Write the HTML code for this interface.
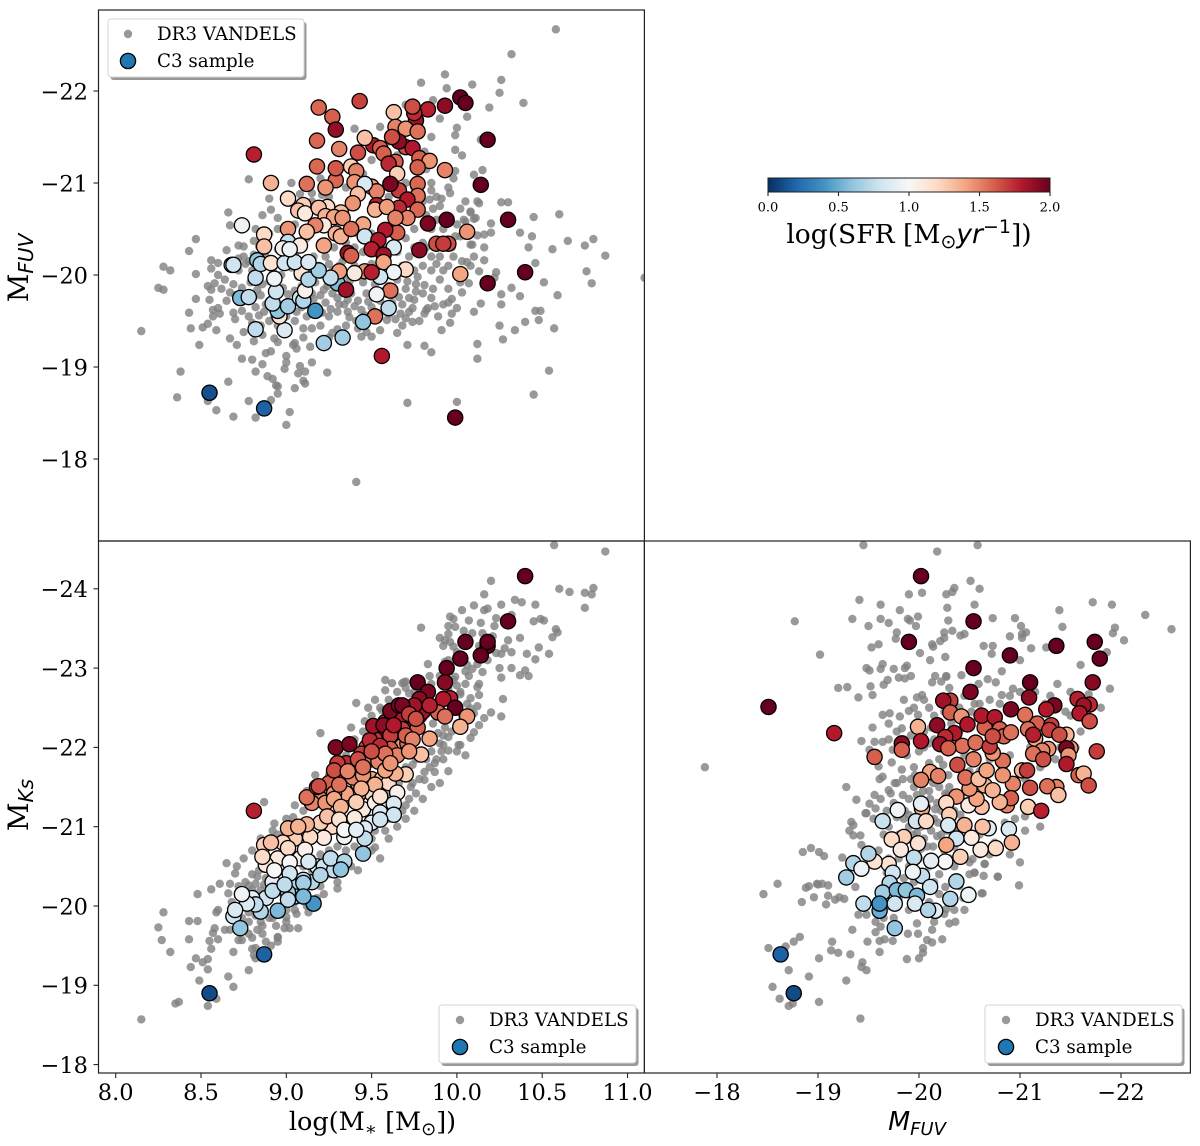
<!DOCTYPE html>
<html lang="en">
<head>
<meta charset="utf-8">
<title>VANDELS C3 sample scatter matrix</title>
<style>
html,body{margin:0;padding:0;background:#fff}
svg{display:block}
text{font-family:"DejaVu Serif","Liberation Serif",serif;fill:#000}
.it{font-family:"DejaVu Sans","Liberation Sans",sans-serif;font-style:italic}
.sans{font-family:"DejaVu Sans","Liberation Sans",sans-serif}
</style>
</head>
<body>
<svg id="chart" xmlns="http://www.w3.org/2000/svg" width="1200" height="1146" viewBox="0 0 1200 1146">
<defs>
<clipPath id="clip-top"><rect x="98.5" y="10" width="545.9" height="531"/></clipPath>
<clipPath id="clip-left"><rect x="98.5" y="541" width="545.9" height="532"/></clipPath>
<clipPath id="clip-right"><rect x="644.4" y="541" width="546" height="532"/></clipPath>
<linearGradient id="rdbu" x1="0" x2="1" y1="0" y2="0">
<stop offset="0" stop-color="#053061"/><stop offset=".1" stop-color="#2166ac"/><stop offset=".2" stop-color="#4393c3"/><stop offset=".3" stop-color="#92c5de"/><stop offset=".4" stop-color="#d1e5f0"/><stop offset=".5" stop-color="#f7f7f7"/><stop offset=".6" stop-color="#fddbc7"/><stop offset=".7" stop-color="#f4a582"/><stop offset=".8" stop-color="#d6604d"/><stop offset=".9" stop-color="#b2182b"/><stop offset="1" stop-color="#67001f"/>
</linearGradient>
</defs>
<g id="panel-top"></g>
<g id="panel-left"></g>
<g id="panel-right"></g>
<g id="frames" fill="none" stroke="#222" stroke-width="1.2">
<rect x="98.5" y="10" width="545.9" height="531"/>
<rect x="98.5" y="541" width="545.9" height="532"/>
<rect x="644.4" y="541" width="546" height="532"/>
</g>
<g id="ticks"></g>

<text transform="translate(28,268) rotate(-90)" text-anchor="middle" font-size="28">M<tspan class="it" font-size="20" dy="5">FUV</tspan></text>
<text transform="translate(28,805) rotate(-90)" text-anchor="middle" font-size="28">M<tspan class="it" font-size="20" dy="5">Ks</tspan></text>
<text x="372.5" y="1130" text-anchor="middle" font-size="25.5">log(M<tspan font-size="18" dy="5">∗</tspan><tspan dy="-5"> [M</tspan><tspan class="sans" font-size="18" dy="5">⊙</tspan><tspan dy="-5">])</tspan></text>
<text x="917" y="1130" text-anchor="middle" font-size="25.5" class="it">M<tspan font-size="18" dy="5">FUV</tspan></text>

<g>
<rect x="110.5" y="22" width="196" height="58" rx="3" fill="#999"/>
<rect x="108" y="19" width="196" height="58" rx="3" fill="#fff" stroke="#d4d4d4"/>
<circle cx="128" cy="34" r="4.2" fill="#808080" fill-opacity=".8"/>
<text x="157" y="40" font-size="18.3">DR3 VANDELS</text>
<circle cx="128" cy="61" r="7.6" fill="#1f77b4" stroke="#000" stroke-width="1.3"/>
<text x="157" y="67" font-size="18.3">C3 sample</text>
</g>
<g>
<rect x="441.5" y="1008" width="197" height="58" rx="3" fill="#999"/>
<rect x="439" y="1005" width="197" height="58" rx="3" fill="#fff" stroke="#d4d4d4"/>
<circle cx="460" cy="1020" r="4.2" fill="#808080" fill-opacity=".8"/>
<text x="489" y="1026" font-size="18.3">DR3 VANDELS</text>
<circle cx="460" cy="1047" r="7.6" fill="#1f77b4" stroke="#000" stroke-width="1.3"/>
<text x="489" y="1053" font-size="18.3">C3 sample</text>
</g>
<g>
<rect x="987.5" y="1008" width="197" height="58" rx="3" fill="#999"/>
<rect x="985" y="1005" width="197" height="58" rx="3" fill="#fff" stroke="#d4d4d4"/>
<circle cx="1006" cy="1020" r="4.2" fill="#808080" fill-opacity=".8"/>
<text x="1035" y="1026" font-size="18.3">DR3 VANDELS</text>
<circle cx="1006" cy="1047" r="7.6" fill="#1f77b4" stroke="#000" stroke-width="1.3"/>
<text x="1035" y="1053" font-size="18.3">C3 sample</text>
</g>
<g id="colorbar">
<rect x="768" y="178" width="282" height="14" fill="url(#rdbu)" stroke="#222" stroke-width="1"/>
<text x="909" y="243" text-anchor="middle" font-size="26.5">log(SFR [M<tspan class="sans" font-size="19" dy="5">⊙</tspan><tspan class="it" dy="-5">yr</tspan><tspan class="sans" font-size="19" dy="-10">−1</tspan><tspan dy="10">])</tspan></text>
</g>
<script>
/* Colour scale */
const sfrStops = ['#053061','#2166ac','#4393c3','#92c5de','#d1e5f0','#f7f7f7','#fddbc7','#f4a582','#d6604d','#b2182b','#67001f'];
/* Tick values and labels */
const massTicks = [8,8.5,9,9.5,10,10.5,11];
const massTickLabels = ['8.0','8.5','9.0','9.5','10.0','10.5','11.0'];
const fuvTicks = [-22,-21,-20,-19,-18];
const fuvTickLabels = ['−22','−21','−20','−19','−18'];
const ksTicks = [-24,-23,-22,-21,-20,-19,-18];
const ksTickLabels = ['−24','−23','−22','−21','−20','−19','−18'];
const fuvBottomTicks = [-18,-19,-20,-21,-22];
const fuvBottomLabels = ['−18','−19','−20','−21','−22'];
const sfrTicks = [0,0.5,1,1.5,2];
const sfrTickLabels = ['0.0','0.5','1.0','1.5','2.0'];

/* DR3 VANDELS: [log mass, M_FUV] */
const grayTop = [[8.47,-20.39],[8.43,-20.26],[8.65,-20.27],[8.56,-20.16],[8.6,-20.13],[8.28,-20.09],[8.32,-20.05],[8.47,-20.01],[8.56,-20.07],[8.25,-19.86],[8.28,-19.84],[8.54,-19.88],[8.58,-19.91],[8.56,-19.84],[8.64,-19.95],[8.69,-19.9],[8.67,-19.81],[8.47,-19.74],[8.55,-19.73],[8.43,-19.59],[8.6,-19.64],[8.57,-19.62],[8.61,-19.58],[8.57,-19.55],[8.69,-19.59],[8.74,-19.61],[8.7,-19.52],[8.15,-19.39],[8.44,-19.42],[8.54,-19.47],[8.51,-19.43],[8.59,-19.4],[8.67,-19.31],[8.49,-19.24],[8.71,-19.24],[8.81,-19.28],[8.86,-19.35],[8.93,-19.31],[8.95,-19.27],[9.04,-19.24],[9.06,-19.2],[9.05,-19.26],[9.14,-19.22],[8.74,-19.09],[8.8,-19.08],[8.88,-19.15],[8.91,-19.17],[9,-19.12],[9,-19.05],[8.99,-18.98],[8.86,-19.03],[9.15,-19.05],[9.08,-19.01],[9.11,-18.95],[9.07,-18.93],[9.24,-18.94],[8.38,-18.95],[8.82,-18.95],[8.89,-18.9],[8.92,-18.87],[8.66,-18.84],[8.94,-18.8],[8.95,-18.79],[8.95,-18.71],[9.1,-18.85],[9.11,-18.82],[9.05,-18.77],[8.36,-18.67],[8.54,-18.63],[8.78,-18.63],[8.91,-18.64],[8.59,-18.53],[8.69,-18.46],[8.82,-18.45],[9.02,-18.51],[9,-18.37],[9.71,-18.61],[9.41,-17.75],[9.71,-19.24],[9.81,-19.23],[9.65,-19.37],[9.44,-19.33],[9.5,-19.33],[9.47,-19.38],[9.37,-19.54],[9.3,-19.41],[9.27,-19.37],[9.15,-19.42],[9.7,-19.53],[9.74,-19.49],[9.78,-19.5],[9.64,-19.52],[9.59,-19.51],[9.82,-19.62],[9.74,-19.64],[9.75,-19.73],[9.76,-19.82],[9.71,-19.93],[9.81,-19.89],[9.77,-19.98],
[10.08,-20.68],[10.1,-20.61],[10.13,-20.78],[10.26,-20.79],[10.3,-20.79],[10.45,-20.63],[10.6,-20.66],[10.2,-20.56],[10.05,-20.58],[10.37,-20.46],[10.44,-20.42],[10.16,-20.44],[10.2,-20.46],[10.12,-20.43],[10.08,-20.33],[10.02,-20.42],[10.16,-20.3],[10.42,-20.3],[10.56,-20.28],[10.65,-20.37],[10.75,-20.32],[10.8,-20.39],[10.87,-20.21],[10.16,-20.16],[10.46,-20.13],[10.06,-20.14],[10.08,-20.1],[10.13,-20.04],[10.23,-20.03],[10.22,-19.97],[10.76,-20.04],[10.79,-19.91],[10.51,-19.92],[10.32,-19.86],[10.26,-19.79],[10.37,-19.77],[10.59,-19.78],[10.03,-19.81],[10.07,-19.91],[10.14,-19.69],[10.26,-19.68],[10,-19.64],[9.97,-19.74],[9.92,-19.68],[9.87,-19.66],[9.83,-19.64],[10.1,-19.6],[9.97,-19.58],[9.89,-19.55],[9.81,-19.58],[10.46,-19.61],[10.49,-19.61],[9.96,-19.48],[9.91,-19.4],[10.48,-19.51],[10.4,-19.49],[10.34,-19.4],[10.25,-19.45],[10.57,-19.42],[10.27,-19.3],[10.12,-19.25],[10.12,-19.09],[9.85,-19.16],[10.54,-18.96],[10.45,-18.7],[10,-18.62],[11.1,-19.97],
[10.58,-22.67],[10.32,-22.4],[10.26,-22.12],[10.39,-21.87],[10.25,-21.98],[9.79,-22.09],[9.93,-22.18],[9.94,-22.03],[10.09,-22.07],[10.06,-21.72],[10.19,-21.82],[10,-21.6],[9.99,-21.52],[9.4,-21.59],[9.55,-21.61],[9.99,-21.36],[10.03,-21.3],[10.14,-21.47],[10.15,-21.14],[9.99,-21.13],[10.1,-21.09],[8.78,-21.04],[9.03,-21],[8.9,-20.83],[8.66,-20.68],[8.67,-20.54],[8.81,-20.37],[8.75,-20.31],[10.12,-20.8],[9.96,-20.89],[9.91,-20.83],[9.84,-20.82],[10.08,-20.69],[10.11,-20.62],[10.04,-20.6],[10.05,-20.46],[9.99,-20.42],[10.09,-20.33],[8.86,-20.65],[8.91,-20.71],[9.15,-20.89],[9.21,-20.87],[9.81,-21.34],
[8.88,-20.2],[8.92,-20.05],[8.97,-20],[9.03,-20.08],[9.07,-19.98],[9.12,-20.05],[9.17,-19.92],[9.2,-20],[9.24,-19.88],[9.28,-19.95],[9.15,-19.8],[9.2,-19.78],[9.1,-19.72],[9.03,-19.68],[9.06,-19.6],[9.18,-19.66],[9.23,-19.7],[9.3,-19.75],[9.34,-19.68],[9.38,-19.8],[9.42,-19.72],[9.47,-19.8],[9.5,-19.65],[9.55,-19.72],[9.58,-19.62],[9.62,-19.7],[9.66,-19.76],[9.7,-19.85],[9.76,-19.9],[9.45,-19.92],[9.52,-19.9],[9.6,-19.88],[9.35,-20],[9.4,-20.1],[9.33,-20.15],[9.25,-20.12],[9.16,-20.2],[9.1,-20.3],[9.05,-20.22],[8.95,-20.28],[9.4,-20.3],[9,-20.45],[9.05,-20.55],[8.95,-20.5],[9.6,-20.5],[9.7,-20.4],[9.8,-20.35],[9.85,-20.5],[9.88,-20.6],[9.82,-20.65],[9.75,-20.3],[9.9,-20.2],[9.95,-20.1],[9.85,-20.05],[9.9,-19.95],[10,-20],[9.95,-19.85],[9.98,-20.2],[10.03,-20.15],[9.8,-20.1],[9.85,-20.2],[9.93,-20.3],[9.15,-20.8],[9.25,-20.85],[9.05,-20.75],[9.6,-20.85],[9.7,-21],[9.85,-21],[9.82,-21.15],[9.88,-20.85],[9.65,-21.3],[9.45,-21.1],[9.5,-21.25],[9.3,-20.55],[9.42,-20.45],[9.5,-20.45],[8.75,-20.2],[8.78,-20.15],[8.8,-20.05],[8.72,-20.05],[8.85,-19.78],[8.9,-19.7],[8.87,-19.6],[8.82,-19.65],[8.78,-19.55],[8.9,-19.5],[8.85,-19.45],[8.95,-19.45],[9,-19.55],[9.05,-19.5],[9.12,-19.55],[9.25,-19.55],[9.3,-19.6],[9.35,-19.45],[9.2,-19.45],[9.1,-19.42]];
const grayTopCloud = [[8.72,-20.32],[8.76,-20.12],[8.81,-20.22],[8.84,-20.31],[8.79,-19.92],[8.83,-19.84],[8.74,-19.86],[8.7,-19.78],[8.76,-19.73],[8.81,-19.76],[8.86,-19.9],[8.9,-19.93],[8.94,-19.83],[8.98,-19.86],[9.01,-19.79],[9.05,-19.83],[9.09,-19.88],[9.13,-19.84],[9.16,-19.74],[9.22,-19.84],[9.27,-19.8],[9.3,-19.86],[9.33,-19.81],[9.36,-19.73],[9.4,-19.66],[9.44,-19.62],[9.48,-19.71],[9.52,-19.77],[9.56,-19.82],[9.63,-19.79],[9.68,-19.68],[9.72,-19.6],[9.67,-19.58],[9.6,-19.57],[9.54,-19.55],[9.46,-19.56],[9.41,-19.5],[9.36,-19.6],[9.31,-19.68],[9.26,-19.63],[9.21,-19.59],[9.15,-19.62],[9.09,-19.65],[9,-19.62],[8.96,-19.68],[8.92,-19.62],[8.88,-19.68],[8.84,-19.56],[8.8,-19.48],[8.93,-19.55],[9.02,-20.15],[9.06,-20.12],[9.1,-20.08],[9.15,-20],[9.19,-20.1],[9.23,-20.2],[9.27,-20.05],[9.31,-20.1],[9.37,-19.93],[9.42,-19.98],[9.47,-20.05],[9.5,-20.12],[9.55,-20.08],[9.6,-20],[9.65,-19.95],[9.68,-20.1],[9.72,-20.2],[9.75,-20.05],[9.78,-20.25],[9.82,-20.3],[9.86,-19.85],[9.92,-20.05],[9.97,-20.3],[9.88,-20.12],[9.8,-19.8],[9.72,-19.75],[9.12,-20.4],[9.2,-20.35],[9.28,-20.3],[9.35,-20.35],[9.45,-20.25],[9.58,-20.3],[9.65,-20.25],[9.55,-20.42],[9.68,-20.6],[9.75,-20.5],[9.92,-20.5],[9.96,-20.62],[9.86,-20.72],[9.8,-20.8],[9.9,-20.75],[9.95,-20.95],[9.85,-20.92],[9.75,-20.95],[10.02,-20.72],[10.05,-20.8],[9.98,-21.05],[10,-20.55],[10.1,-20.2],[10.02,-19.92],[9.95,-19.7],[9.85,-19.75],[9.68,-19.45],[9.55,-19.4],[9.42,-19.42],[9.25,-19.32],[9.1,-19.32],[8.98,-19.38],[8.75,-19.38],[8.65,-19.72],[8.62,-19.85],[8.6,-20],[8.72,-20.18],[8.82,-20.5],[8.9,-20.45],[8.95,-20.62],[9.08,-20.88],[9.35,-20.95],[9.2,-21.05],[9.4,-21.3],[9.6,-21.45],[9.85,-21.5],[9.9,-21.7],[9.7,-21.85],[9.86,-21.9]];

/* DR3 VANDELS: [log mass, M_Ks] */
const grayLeft = [[10.57,-24.55],[10.87,-24.47],[10.2,-24.1],[10.16,-23.93],[10.6,-24],[10.66,-23.96],[10.75,-23.95],[10.8,-24.01],[10.79,-23.93],[10.75,-23.76],[10.34,-23.86],[10.38,-23.83],[10.26,-23.8],[10.46,-23.8],[10.1,-23.79],[10.03,-23.73],[10.16,-23.73],[10.18,-23.75],[9.96,-23.65],[9.98,-23.62],[10.07,-23.6],[10.14,-23.57],[10.23,-23.63],[10.32,-23.67],[10.45,-23.59],[10.49,-23.62],[10.51,-23.6],[10.22,-23.53],[9.95,-23.53],[9.99,-23.52],[9.79,-23.51],[10.58,-23.49],[10.59,-23.45],[10.56,-23.39],[10.04,-23.47],[9.95,-23.43],[9.9,-23.38],[9.93,-23.35],[10.09,-23.44],[10.15,-23.44],[10.21,-23.4],[9.92,-23.28],[9.96,-23.33],[9.98,-23.27],[10.13,-23.28],[10.37,-23.38],[10.48,-23.26],[10.41,-23.18],[10.54,-23.18],[10.46,-23.11],[10.32,-23.2],[10.28,-23.25],[10.26,-23.18],[10.23,-23.19],[10.25,-23],[10.32,-23],[10.26,-22.88],[10.4,-22.97],[10.37,-22.91],[10.42,-22.9],[9.83,-23.05],[9.95,-23.1],[9.93,-23.08],[10.06,-23.04],[10.09,-22.99],[10.05,-22.96],[10.07,-22.9],[9.84,-22.9],[9.69,-22.82],[9.99,-22.89],[10,-22.78],[10.13,-22.8],[10.12,-22.76],[10.02,-22.67],[10.13,-22.66],[10.27,-22.61],[10.12,-22.52],[10.08,-22.49],[10.1,-22.43],[10.2,-22.44],[10.16,-22.37],[10.26,-22.39],[10.13,-22.28],[10.1,-22.19],[10.08,-22.12],[9.95,-22.13],[10.02,-22.03],[10.01,-22.03],[9.95,-21.96],[9.91,-21.95],[9.92,-22.03],[9.89,-22.18],
[9.2,-22.18],[9.41,-22.56],[9.58,-22.85],[9.62,-22.81],[9.68,-22.81],[9.7,-22.83],[9.46,-22.33],[9.56,-22.47],[8.87,-21.31],[9.05,-21.27],[9.17,-21.65],[8.93,-21.04],[9.74,-21.78],[9.72,-21.67],[9.81,-21.69],[9.87,-21.69],[9.81,-21.59],[9.73,-21.5],[9.76,-21.42],[9.7,-21.27],[9.52,-20.74],
[8.15,-18.57],[8.37,-18.79],[8.35,-18.77],[8.54,-18.74],[8.59,-18.83],[8.49,-19.06],[8.66,-19.11],[8.69,-18.98],[8.78,-19.19],[8.44,-19.23],[8.54,-19.2],[8.51,-19.29],[8.54,-19.33],[8.47,-19.34],[8.32,-19.42],[8.69,-19.42],[8.8,-19.46],[8.82,-19.47],[8.81,-19.38],[8.82,-19.34],[8.91,-19.5],[8.88,-19.55],[8.95,-19.6],[8.95,-19.55],[8.27,-19.57],[8.43,-19.58],[8.55,-19.56],[8.6,-19.58],[8.56,-19.46],[8.72,-19.57],[8.74,-19.57],[8.25,-19.73],[8.43,-19.81],[8.48,-19.81],[8.58,-19.72],[8.57,-19.66],[8.64,-19.7],[8.67,-19.7],[8.28,-19.92],[8.59,-19.92],[8.6,-19.95],[8.48,-20.15],[8.56,-20.21],[8.61,-20.28],[8.67,-20.28],[8.66,-20.16],[8.7,-20.41],[8.65,-20.54],[8.71,-20.5],[8.78,-20.26],[8.83,-20.37],[8.82,-20.28],[8.87,-20.27],[8.85,-20.2],[8.78,-19.8],[8.83,-19.7],[8.78,-19.65],[8.85,-19.8],[9,-19.86],[9.05,-19.95],[9.13,-19.92],[9.3,-20.22],[8.99,-19.72],[9.02,-19.72],[9.07,-19.72],[8.95,-19.61],
[9.05,-20.05],[9.12,-20.15],[9.2,-20.25],[9.25,-20.4],[9.3,-20.3],[9.38,-20.5],[9.42,-20.45],[9.5,-20.7],[9.55,-20.6],[9.5,-20.85],[9.58,-20.95],[9.6,-20.85],[9.65,-21],[9.7,-21.1],[9.75,-21.2],[9.8,-21.35],[9.85,-21.5],[9.9,-21.55],[9.95,-21.7],[9.87,-21.8],[9.92,-21.85],[10,-21.95],[10.05,-21.9],[8.95,-20.9],[9,-21.1],[9.05,-21.05],[9.1,-21.2],[9.15,-21.3],[9.25,-21.65],[9.3,-21.75],[9.35,-21.9],[9.4,-22.1],[9.45,-22.2],[9.5,-22.4],[9.55,-22.5],[9.6,-22.6],[9.65,-22.7],[9.7,-22.75],[8.9,-20.1],[8.95,-20.2],[8.85,-20.05],[8.92,-19.85],[8.97,-19.9],[9,-19.95],[8.8,-20.2],[8.75,-20],[9.05,-20.35],[9.15,-20.45],[8.98,-20.4],[8.9,-20.3]];
const grayLeftCloud = [[8.68,-20.05],[8.72,-20.25],[8.76,-20.3],[8.8,-20.4],[8.84,-20.45],[8.88,-20.35],[8.9,-20.5],[8.94,-20.4],[8.98,-20.15],[9.02,-20.05],[9.06,-19.9],[9.08,-20.2],[9.12,-20],[9.18,-20.1],[9.22,-20.15],[8.86,-19.75],[8.9,-19.85],[8.94,-19.75],[8.96,-19.98],[8.82,-19.88],[8.78,-19.92],[8.74,-19.85],[8.8,-19.6],[8.86,-19.65],[9,-19.8],[9.1,-20.5],[9.15,-20.6],[9.2,-20.65],[9.25,-20.7],[9.3,-20.75],[9.28,-20.55],[9.35,-20.7],[9.4,-20.75],[9.36,-20.95],[9.45,-20.9],[9.52,-20.95],[9.6,-21.1],[9.62,-21.2],[9.68,-21.2],[9.72,-21.35],[9.66,-21.4],[9.74,-21.55],[9.78,-21.6],[9.84,-21.75],[9.88,-21.85],[9.85,-21.95],[9.9,-22.05],[9.92,-22.15],[9.97,-22.2],[10,-22.3],[10.03,-22.4],[10.06,-22.55],[10.02,-22.7],[10.05,-22.8],[9.98,-22.85],[9.9,-22.9],[9.85,-22.8],[9.75,-22.7],[9.72,-22.68],[9.95,-22.75],[10.08,-22.62],[9.93,-22.25],[9.86,-22.3],[9.82,-21.85],[9.76,-21.85],[9.7,-21.75],[9.66,-21.55],[9.6,-21.4],[9.04,-21.12],[8.92,-20.95],[8.85,-20.85],[8.8,-20.7],[8.75,-20.6],[9.12,-21.45],[9.22,-21.4],[9.3,-21.9],[9.38,-22.25],[9.48,-22.5],[9.52,-22.6],[9.58,-22.72],[10.15,-22.95],[10.18,-23.1],[10.12,-23.05],[10,-23.2],[10.3,-23.35]];

/* DR3 VANDELS: [M_FUV, M_Ks] */
const grayRight = [[-19.45,-24.55],[-20.18,-24.47],[-20.58,-24.55],[-20.51,-24.1],[-20.6,-24],[-20.35,-24.01],[-20.33,-23.96],[-20.27,-23.93],[-20.03,-23.95],[-19.9,-23.93],[-19.41,-23.86],[-19.62,-23.8],[-19.81,-23.73],[-19.99,-23.65],[-19.89,-23.62],[-19.91,-23.6],[-19.97,-23.53],[-19.7,-23.57],[-19.62,-23.62],[-19.5,-23.53],[-19.34,-23.62],[-20.28,-23.76],[-20.55,-23.8],[-20.29,-23.6],[-20.73,-23.63],[-20.95,-23.63],[-21.01,-23.53],[-21.42,-23.52],[-21.39,-23.73],[-21.72,-23.83],[-21.91,-23.8],[-22.24,-23.67],[-22.5,-23.49],[-21.94,-23.51],[-21.92,-23.44],[-22.03,-23.35],[-19.78,-23.45],[-19.77,-23.37],[-19.6,-23.3],[-19.53,-23.26],[-20.25,-23.45],[-20.33,-23.47],[-20.25,-23.38],[-20.21,-23.34],[-20.45,-23.43],[-20.41,-23.41],[-20.9,-23.4],[-21.02,-23.43],[-21.06,-23.45],[-21.02,-23.38],[-20.13,-23.3],[-20.14,-23.27],[-20.01,-23.19],[-20.26,-23.14],[-20.11,-23.1],[-20.64,-23.28],[-20.73,-23.28],[-20.72,-23.18],[-21.11,-23.25],[-21.26,-23.26],[-21,-23.1],[-21.86,-23.2],[-21.6,-23.04],[-20.82,-22.96],[-19.48,-23],[-19.51,-22.97],[-19.62,-22.99],[-19.64,-23.05],[-19.75,-22.99],[-19.86,-23],[-19.88,-23.03],[-19.69,-22.85],[-19.65,-22.79],[-19.8,-22.88],[-19.86,-22.87],[-19.92,-22.9],[-19.52,-22.77],[-19.29,-22.76],[-19.54,-22.66],[-19.4,-22.63],[-19.98,-22.63],[-20.03,-22.66],[-20.16,-22.9],[-20.27,-22.9],[-20.27,-22.89],[-20.13,-22.82],[-20.22,-22.83],[-20.42,-22.91],[-20.68,-22.86],[-20.76,-22.82],[-20.59,-22.8],[-20.93,-22.74],[-21.37,-22.8],[-21.89,-22.74],[-21.68,-22.67],[-20.82,-22.66],
[-19.64,-22.41],[-19.71,-22.43],[-19.7,-22.3],[-19.81,-22.39],[-19.9,-22.46],[-19.83,-22.24],[-19.54,-22.25],[-19.43,-22.08],[-19.99,-22.41],[-19.56,-22.07],[-19.64,-22.07],[-19.51,-21.97],[-19.74,-21.97],[-19.73,-21.81],[-19.6,-21.76],[-19.64,-21.63],[-19.61,-21.6],[-19.83,-21.72],[-19.56,-21.4],[-19.51,-21.29],[-19.57,-21.23],[-19.47,-21.17],[-19.7,-21.46],[-19.84,-21.4],[-19.78,-21.55],[-20.65,-20.53],[-20.55,-20.42],[-20.78,-20.37],[-20.99,-20.26],[-20.62,-20.16],[-20.44,-20.1],[-21.05,-21.13],
[-19.28,-21.5],[-19.38,-21.34],[-19.48,-21.17],[-19.33,-21.06],[-19.35,-21.02],[-19.31,-20.95],[-19.35,-20.89],[-19.42,-20.89],[-19.43,-20.77],[-18.85,-20.68],[-18.93,-20.73],[-19.01,-20.68],[-19.06,-20.63],[-19.24,-20.61],[-18.88,-20.23],[-18.91,-20.25],[-19,-20.27],[-19.1,-20.26],[-19.21,-20.11],[-19.26,-20.09],[-19.37,-20.24],[-18.84,-20.05],[-19.08,-20.02],[-18.96,-20.11],[-19.1,-20.13],[-19.17,-20.08],[-18.46,-20.15],[-18.6,-20.28],[-18.99,-20.28],[-19.04,-20.28],[-19.34,-19.7],[-19.4,-19.89],[-19.48,-19.89],[-19.57,-19.8],[-19.62,-19.74],[-19.57,-19.67],[-19.61,-19.56],[-19.66,-19.58],[-19.74,-19.56],[-19.49,-19.55],[-18.76,-19.55],[-18.82,-19.61],[-18.68,-19.49],[-18.51,-19.47],[-19.14,-19.55],[-19.13,-19.44],[-19.2,-19.41],[-19.32,-19.39],[-19.01,-19.34],[-19.61,-19.42],[-18.71,-19.19],[-18.91,-19.11],[-18.55,-18.98],[-18.62,-18.83],[-18.71,-18.74],[-18.75,-18.77],[-19.01,-18.79],[-19.28,-19.06],[-19.42,-18.58],[-19.44,-19.29],[-19.43,-19.23],[-19.48,-19.19],[-19.88,-19.33],[-20,-19.34],[-20.04,-19.47],[-20.04,-19.41],[-20.08,-19.57],[-20.13,-19.54],[-20.23,-19.58],[-19.89,-19.65],[-19.99,-19.65],[-20.13,-19.7],[-20.3,-19.78],[-20.36,-19.8],[-20.27,-19.96],[-20.63,-20.16],[-20.78,-20.37],[-20.55,-20.42],[-20.64,-20.38],[-20.65,-20.53],[-20.53,-20.59],[-20.26,-20.24],[-19.98,-19.78],[-17.88,-21.75],[-18.77,-23.59],[-19.02,-23.17],[-19.2,-22.75],
[-19.7,-21],[-19.75,-21.3],[-19.8,-20.9],[-19.85,-21.1],[-19.9,-21.35],[-19.92,-21.6],[-19.95,-21.5],[-20,-21.2],[-20.02,-21],[-20.05,-20.85],[-20.08,-21.25],[-20.1,-21.45],[-20.12,-20.95],[-20.15,-21.1],[-20.18,-21.3],[-20.2,-21.5],[-20.22,-20.9],[-20.25,-20.7],[-20.28,-20.95],[-20.05,-21.6],[-20.1,-21.8],[-19.95,-21.75],[-19.88,-21.9],[-20.2,-21.85],[-20.25,-22],[-20.3,-21.5],[-20.15,-22.1],[-20.05,-22.2],[-19.98,-22.3],[-20.35,-21.2],[-20.4,-21],[-20.32,-22.3],[-20.4,-22.5],[-20.5,-22.7],[-20.1,-22.5],[-20.2,-22.6],[-20.3,-22.75],[-20,-20.6],[-20.1,-20.5],[-20.2,-20.4],[-20.15,-20.3],[-19.9,-20.5],[-19.85,-20.35],[-19.7,-20.6],[-19.6,-20.7],[-19.65,-20.9],[-19.55,-21.1],[-20.6,-20.9],[-19.98,-21.4],[-20.03,-21.35],[-20.12,-21.62],[-20.17,-21.7],[-19.9,-21.15],[-19.78,-21.12],[-20.22,-21.2],[-20.28,-21.4],[-20.06,-21.05],[-20.14,-20.75],[-20.3,-20.6],[-20.35,-20.5],[-20.5,-20.55],[-20.8,-22.1],[-21.25,-22.55],[-21.45,-22.45],[-21.05,-21.6],[-21.2,-21.75],[-21.35,-21.85],[-21.5,-22.4],[-20.55,-22.55]];
const grayRightCloud = [[-19.62,-21.35],[-19.68,-21.2],[-19.72,-21.42],[-19.76,-21.55],[-19.8,-21.25],[-19.84,-21.6],[-19.86,-21.2],[-19.9,-21],[-19.94,-20.9],[-19.96,-21.65],[-19.99,-21.3],[-20.04,-21.45],[-20.07,-21.15],[-20.09,-21.72],[-20.11,-21.35],[-20.14,-21.55],[-20.16,-21.22],[-20.19,-21.05],[-20.22,-21.62],[-20.24,-21.78],[-20.26,-21.42],[-20.29,-21.65],[-20.31,-21.25],[-20.33,-21.1],[-20.36,-21.35],[-20.38,-20.95],[-20.41,-21.15],[-20.44,-20.85],[-20.3,-20.82],[-20.18,-20.88],[-20.08,-20.75],[-19.98,-20.92],[-20.02,-20.72],[-19.92,-20.65],[-19.84,-20.72],[-19.8,-20.6],[-19.76,-20.45],[-19.68,-20.42],[-19.95,-20.3],[-20.05,-20.4],[-20.25,-20.5],[-20.35,-20.75],[-20.42,-20.6],[-20.5,-20.4],[-20.6,-20.65],[-20.4,-20.25],[-20.2,-20.15],[-20.1,-20.05],[-19.9,-19.95],[-19.8,-20.1],[-19.7,-20],[-19.65,-19.85],[-19.75,-19.85],[-20.15,-19.8],[-20.25,-19.9],[-20.35,-19.95],[-20.45,-19.95],[-20.5,-20.2],[-19.7,-22.1],[-19.78,-22.2],[-19.85,-22.1],[-19.92,-22.15],[-20,-21.95],[-20.05,-22],[-20.1,-22.05],[-20.12,-22.25],[-20.2,-22.3],[-20.28,-22.15],[-20.35,-22.05],[-20.4,-22.2],[-20.45,-22.4],[-20.52,-22.45],[-20.6,-22.55],[-20.7,-22.6],[-20.8,-22.55],[-20.9,-22.65],[-21,-22.7],[-21.15,-22.7],[-21.3,-22.65],[-21.5,-22.7],[-20.35,-22.55],[-20.45,-22.65],[-20.25,-22.45],[-20.15,-22.4],[-20.05,-22.6],[-19.95,-22.5],[-19.85,-22.6],[-20.6,-21.7],[-20.5,-21.7],[-20.45,-21.9],[-20.7,-21.85],[-20.9,-21.9],[-21.1,-22],[-21.4,-22],[-21.6,-22.2],[-21.8,-22.5],[-21.55,-22],[-21.05,-20.95],[-21.2,-21],[-20.95,-21.1],[-20.85,-21.05],[-20.75,-20.8],[-20.7,-20.65],[-20.9,-20.65],[-21,-20.55]];

/* C3 sample: [log mass, M_FUV, log SFR] */
const c3Top = [[10.02,-21.93,2],[10.05,-21.87,2],[9.27,-21.72,1.6],[9.19,-21.82,1.58],[9.29,-21.58,1.88],[9.43,-21.89,1.68],[9.18,-21.46,1.58],[9.31,-21.37,1.5],[9.42,-21.33,1.65],[8.81,-21.31,1.78],[9.18,-21.18,1.58],[9.29,-21.03,1.58],[9.29,-21.16,1.62],[8.91,-21,1.35],[9.12,-20.99,1.55],[9.23,-20.95,1.45],[9.01,-20.83,1.2],[8.74,-20.54,.95],[9.93,-21.84,1.9],[9.83,-21.8,1.78],[9.76,-21.68,1.85],[9.75,-21.76,1.75],[9.74,-21.83,1.65],[9.63,-21.77,1.3],[9.64,-21.61,1.5],[9.7,-21.59,1.45],[9.77,-21.56,1.55],[9.51,-21.41,1.8],[9.46,-21.49,1.3],[9.55,-21.38,1.6],[9.57,-21.32,1.6],[9.7,-21.39,1.65],[9.74,-21.38,1.8],[9.66,-21.45,1.9],[9.62,-21.5,1.65],[9.78,-21.27,1.6],[9.84,-21.24,1.45],[9.77,-21.17,1.6],[9.93,-21.14,1.5],[9.64,-21.23,1.6],[9.6,-21.21,1.75],[9.38,-21.18,1.25],[9.41,-21.13,1.5],[9.65,-21.1,1.25],[9.4,-21.01,1.45],[9.66,-20.92,1.7],[9.61,-20.99,1.95],[9.77,-20.99,1.58],[9.77,-20.86,1.55],[9.71,-20.82,1.8],[9.5,-20.96,1.42],[9.53,-20.91,1.5],[9.46,-20.99,.85],[9.42,-20.88,1.3],[9.39,-20.78,1.45],[9.53,-20.76,1.78],[9.66,-20.73,1.75],[9.77,-20.71,1.58],[9.71,-20.62,1.5],[9.83,-20.56,1.95],[9.94,-20.6,2],[10.06,-20.47,1.45],[9.88,-20.34,1.65],[9.95,-20.34,1.65],[9.92,-20.34,1.7],[9.78,-20.27,1.9],[10.02,-20.01,1.4],[9.65,-20.46,1.6],[9.52,-20.71,1.35],[9.59,-20.74,1.42],[9.64,-20.62,1.5],[9.58,-20.49,1.8],[9.45,-20.55,1.4],[9.32,-20.68,1.3],[9.24,-20.74,1.2],[9.1,-20.76,1.25],[9.07,-20.7,1.3],[9.11,-20.67,1.1],[9.19,-20.73,1.3],[9.23,-20.64,1.35],[9.28,-20.63,1.4],[9.33,-20.62,1.45],[9.22,-20.54,1.1],[9.17,-20.54,1.5],[9.12,-20.47,1.3],[9.29,-20.45,1.35],[9.32,-20.42,1.35],[9.38,-20.5,1.55],[9.01,-20.5,1.45],[8.87,-20.44,1.2],[8.87,-20.31,1.3],[9.22,-20.32,1.4],[9.46,-20.42,.8],[9.54,-20.38,1.8],[9.5,-20.28,1.78],[9.63,-20.3,.85],[9.36,-20.24,1.85],[9.57,-20.22,1.85],[9.38,-20.21,1.6],[9.57,-20.14,1.4],[9.7,-20.06,1.2],[9.63,-20.03,.95],[9.55,-19.98,.8],[9.46,-20.04,1.45],[9.5,-20.03,1.78],[9.4,-20.02,1.1],[9.3,-19.91,.55],[9.31,-20.04,1.42],[9.35,-19.84,1.85],[9.61,-19.83,1.55],[9.53,-19.79,.95],[9.6,-19.64,.75],[9.52,-19.55,1.55],[9.45,-19.49,.6],[9.33,-19.32,.65],[9.22,-19.26,.65],[9.17,-19.61,.4],[8.99,-19.4,.85],[8.82,-19.41,.75],[8.96,-19.55,1.15],[8.95,-19.61,.6],[9.01,-19.66,.65],[8.92,-19.69,.75],[9.08,-19.75,.8],[9.1,-19.72,.7],[8.73,-19.75,.55],[8.78,-19.76,.75],[8.94,-19.82,.8],[9.11,-19.83,1.05],[8.82,-19.97,.75],[8.93,-19.96,.95],[9.09,-20.02,1.15],[9.13,-19.95,.7],[9.26,-19.97,.75],[9.19,-20.05,.65],[8.83,-20.16,.6],[8.85,-20.12,.7],[8.91,-20.13,1.15],[8.99,-20.13,.8],[9.05,-20.14,.8],[9.13,-20.14,.85],[8.68,-20.11,.95],[8.69,-20.11,.8],[9.01,-20.36,.75],[9.08,-20.32,1.1],[8.98,-20.29,1.05],[9.02,-20.28,.95],[8.55,-18.72,.12],[8.87,-18.55,.18],[9.99,-18.45,2],[9.56,-19.12,1.8],[10.18,-21.47,2],[10.14,-20.98,2],[10.3,-20.6,2],[10.18,-19.91,2],[10.4,-20.03,2]];

/* C3 sample: [log mass, M_Ks, log SFR] */
const c3LeftCore = [[9.58,-22.32,1.75],[9.62,-22.38,1.85],[9.6,-22.2,1.65],[9.55,-22.18,1.8],[9.52,-22.1,1.7],[9.47,-22,1.65],[9.44,-21.92,1.7],[9.5,-21.85,1.55],[9.56,-21.92,1.6],[9.6,-22.05,1.6],[9.66,-22.12,1.55],[9.68,-22.02,1.45],[9.72,-22.18,1.5],[9.75,-22.3,1.7],[9.7,-22.4,1.8],[9.66,-22.45,1.9],[9.78,-22.4,1.75],[9.8,-22.45,1.85],[9.4,-21.75,1.6],[9.35,-21.8,1.75],[9.32,-21.62,1.6],[9.27,-21.58,1.65],[9.25,-21.55,1.6],[9.42,-21.55,1.4],[9.5,-21.6,1.4],[9.56,-21.6,1.3],[9.6,-21.55,1.2],[9.5,-21.42,1.2],[9.42,-21.4,1.3],[9.35,-21.42,1.4],[9.28,-21.42,1.45],[9.2,-21.35,1.5],[9.15,-21.3,1.5],[9.45,-21.22,1.1],[9.52,-21.3,1.05],[9.58,-21.25,.95],[9.5,-21.05,.9],[9.42,-21,.95],[9.27,-21,1.2],[9.2,-21.05,1.25],[9.05,-20.85,1.25],[8.98,-20.8,1.2],[9.08,-20.6,1.05],[8.95,-20.6,1.1],[8.88,-20.52,1.1],[9.18,-20.5,.9],[9.22,-20.5,.8],[9.28,-20.45,.75],[9.15,-20.3,.7],[9.05,-20.25,.7],[8.97,-20.32,.85],[8.92,-20.3,.9],[8.88,-20.1,.8],[8.8,-20.1,.9],[9.05,-20.12,.65]];
const c3Left = [[8.81,-21.2,1.78],[9.12,-21.37,1.55],[9.18,-21.5,1.6],[9.19,-21.51,1.65],[9.29,-22,1.95],[9.37,-22.04,1.95],[9.3,-21.8,1.7],[9.28,-21.71,1.65],[9.42,-21.85,1.65],[9.49,-22.09,1.75],[9.51,-22.27,1.85],[9.57,-22.28,1.9],[9.66,-22.35,1.8],[9.68,-22.23,1.7],[9.61,-22.15,1.7],[9.61,-21.98,1.6],[9.71,-22.05,1.55],[9.65,-21.9,1.5],[9.54,-21.82,1.5],[9.77,-22.25,1.6],[9.84,-22.11,1.4],[9.79,-21.91,1.3],[9.7,-21.66,1.25],[9.64,-21.67,1.35],[9.58,-21.71,1.4],[9.39,-21.62,1.5],[9.45,-21.65,1.45],[9.31,-21.53,1.55],[9.52,-21.53,1.35],[9.44,-21.48,1.35],[9.55,-21.38,1.15],[9.65,-21.43,1.05],[9.63,-21.29,.85],[9.55,-21.18,.85],[9.63,-21.15,.8],[9.55,-21.09,.8],[9.46,-20.98,.85],[9.46,-20.85,.75],[9.45,-20.66,.6],[9.23,-21.3,1.45],[9.28,-21.35,1.4],[9.32,-21.25,1.35],[9.24,-21.13,1.3],[9.41,-21.31,1.25],[9.4,-21.11,1.1],[9.31,-21.09,1.15],[9.34,-20.87,.95],[9.34,-20.96,1],[9.41,-20.96,.9],[9.22,-20.86,1.1],[9.14,-20.87,1.2],[9.12,-21.03,1.35],[9.01,-20.98,1.35],[9.07,-21,1.35],[8.87,-20.77,1.25],[8.91,-20.8,1.3],[9.01,-20.73,1.2],[9.11,-20.71,1.05],[8.86,-20.62,1.2],[9.02,-20.55,1],[8.93,-20.45,1],[9.13,-20.56,.85],[9.26,-20.6,.75],[9.34,-20.56,.7],[9.32,-20.46,.6],[9.2,-20.39,.7],[9.1,-20.33,.75],[9.02,-20.41,.8],[8.55,-18.9,.1],[8.87,-19.39,.18],[9.16,-20.03,.4],[9.1,-20.29,.65],[9.1,-20.12,.55],[9.01,-20.17,.65],[9.01,-20.08,.75],[8.95,-19.94,.55],[8.92,-20.19,.75],[8.99,-20.27,.75],[8.85,-19.93,.7],[8.82,-20.02,.75],[8.77,-20.03,.85],[8.74,-20.15,.95],[8.69,-19.87,.8],[8.7,-19.95,.85],[8.73,-19.72,.6],[10.4,-24.16,2],[10.3,-23.59,2],[10.05,-23.33,2],[10.18,-23.28,2],[10.18,-23.33,2],[10.14,-23.16,2],[10.02,-23.12,2],[9.94,-23,2],[9.93,-22.82,1.92],[9.77,-22.82,2],[9.83,-22.7,1.95],[9.96,-22.62,1.78],[9.92,-22.61,1.8],[9.99,-22.5,2],[9.78,-22.61,1.9],[9.75,-22.53,1.85],[9.89,-22.44,1.6],[9.93,-22.39,1.55],[9.84,-22.53,1.78],[10.06,-22.39,1.45],[10.02,-22.26,1.35],[9.61,-22.46,1.95],[9.66,-22.53,1.95],[9.68,-22.53,1.95],[9.72,-22.42,1.7],[9.76,-22.36,1.65],[9.63,-22.28,1.8],[9.7,-22.15,1.6],[9.74,-22.1,1.5],[9.55,-22.02,1.75],[9.58,-21.92,1.55],[9.5,-21.95,1.65],[9.72,-21.95,1.45],[9.61,-21.8,1.45],[9.45,-21.75,1.55],[9.36,-21.7,1.5]];

/* C3 sample: [M_FUV, M_Ks, log SFR] */
const c3Right = [[-20.02,-24.16,2],[-20.54,-23.59,2],[-19.9,-23.33,2],[-21.74,-23.33,2],[-21.36,-23.28,2],[-21.79,-23.12,2],[-20.9,-23.16,2],[-20.54,-23,2],[-21.72,-22.82,1.92],[-21.1,-22.82,2],[-20.51,-22.7,1.95],[-21.09,-22.63,1.9],[-21.57,-22.61,1.78],[-21.69,-22.54,1.75],[-21.63,-22.53,1.85],[-20.31,-22.59,1.7],[-20.24,-22.59,1.85],[-21.34,-22.53,1.95],[-21.26,-22.48,1.8],[-20.91,-22.48,1.95],[-18.51,-22.51,2],[-19.16,-22.18,1.8],[-21.59,-22.43,1.8],[-21.69,-22.33,1.65],[-21.05,-22.41,1.55],[-21.17,-22.3,1.6],[-21.31,-22.28,1.7],[-21.5,-21.99,1.45],[-21.46,-22.16,1.35],[-21.29,-22.22,1.7],[-21.39,-22.16,1.65],[-21.08,-22.23,1.55],[-21.15,-22.11,1.4],[-21.13,-22.16,1.78],[-21.46,-21.99,1.95],[-21.48,-21.9,1.45],[-21.46,-21.79,1.8],[-21.76,-21.95,1.7],[-21.28,-21.98,1.45],[-21.22,-21.96,1.5],[-21.13,-21.92,1.55],[-21.23,-21.85,1.65],[-21.02,-21.71,1.35],[-21.07,-21.71,1.7],[-20.93,-21.54,1.5],[-21.1,-21.49,1.65],[-21.36,-21.5,1.5],[-21.27,-21.51,1.55],[-21.38,-21.4,1.3],[-21.58,-21.65,1.6],[-21.63,-21.67,1.35],[-21.68,-21.52,1.65],[-21.08,-21.25,1.25],[-21.21,-21.2,1.78],[-20.87,-21.27,1.5],[-20.91,-21.36,1.6],[-20.8,-21.31,1.35],[-20.62,-21.25,1.3],[-20.49,-21.27,1.1],[-20.57,-21.35,1.4],[-20.37,-21.38,1.45],[-20.65,-21.52,1.35],[-20.73,-21.46,1.35],[-20.5,-21.48,1.45],[-20.46,-21.62,1.55],[-20.59,-21.6,1.3],[-20.83,-21.83,1.55],[-20.83,-21.65,1.45],[-20.67,-21.71,1.4],[-20.38,-21.78,1.65],[-20.54,-21.85,1.5],[-20.43,-22.02,1.55],[-20.56,-22.06,1.55],[-20.73,-21.93,1.45],[-20.7,-22.01,1.7],[-20.65,-22.25,1.6],[-20.31,-22.44,1.6],[-20.42,-22.39,1.45],[-20.18,-22.28,1.9],[-20.62,-22.4,1.8],[-20.75,-22.38,1.8],[-20.48,-22.29,1.8],[-20.35,-22.18,1.8],[-20.26,-22.13,1.75],[-20.21,-22.04,1.85],[-20.29,-21.99,1.6],[-20.8,-22.23,1.6],[-20.84,-22.14,1.6],[-20.91,-22.19,1.55],[-20.73,-22.14,1.65],[-19.99,-22.26,1.35],[-20.02,-22.08,1.8],[-19.83,-22.05,1.9],[-19.83,-21.97,1.6],[-19.56,-21.88,1.6],[-20.11,-21.69,1.4],[-20.19,-21.64,1.5],[-20.02,-21.59,1.5],[-20.03,-21.23,1.4],[-20.02,-21.29,.9],[-19.79,-21.21,.97],[-19.97,-21.07,.8],[-19.64,-21.07,.78],[-20.07,-21.07,1.2],[-20.27,-21.3,1.2],[-20.3,-21.15,1.25],[-20.29,-21.02,.85],[-20.45,-21.02,1.35],[-20.37,-20.85,.8],[-20.52,-20.86,1.1],[-20.69,-20.98,.9],[-20.63,-21,1.3],[-20.89,-20.97,.85],[-20.92,-20.8,1.35],[-20.76,-20.73,1.2],[-20.61,-20.71,1.1],[-20.41,-20.62,1.25],[-20.27,-20.77,1.4],[-20.26,-20.56,1],[-19.99,-20.79,1.15],[-19.85,-20.87,1.25],[-19.73,-20.84,1.2],[-19.82,-20.71,1.1],[-20.12,-20.57,.9],[-19.95,-20.61,.75],[-19.7,-20.53,1.15],[-19.56,-20.56,1.15],[-19.5,-20.66,.7],[-19.35,-20.54,.7],[-19.43,-20.47,.95],[-19.45,-20.03,.75],[-19.28,-20.36,.65],[-20.03,-20.38,.75],[-19.74,-20.42,.8],[-19.94,-20.43,.95],[-20.11,-20.24,.8],[-20.37,-20.31,.7],[-20.49,-20.14,.95],[-20.31,-20.09,.7],[-19.71,-20.29,.7],[-19.64,-20.17,.65],[-19.78,-20.2,.55],[-19.87,-20.2,.6],[-19.98,-20.13,.55],[-19.96,-20.03,.85],[-19.76,-20.03,.8],[-19.61,-19.94,.5],[-19.61,-20.03,.4],[-20.16,-19.94,.9],[-20.09,-19.95,.7],[-19.76,-19.72,.6],[-18.63,-19.39,.18],[-18.76,-18.9,.1]];

const svgNS = 'http://www.w3.org/2000/svg';
const frameLeft = 98.5, frameBottom = 1073, frameMid = 644.4;
/* Axis functions */
function xMass(v){ return 115.7 + (v - 8) * 170.6; }
function yFuv(v){ return 275 + (v + 20) * 92; }
function yKs(v){ return 906 + (v + 20) * 79.3; }
function xFuv(v){ return 919 + (-20 - v) * 101; }
function xSfr(v){ return 768 + v * 141; }

function sfrColor(v){
  const t = Math.max(0, Math.min(1, v / 2)) * (sfrStops.length - 1);
  const i = Math.min(sfrStops.length - 2, Math.floor(t));
  const f = t - i;
  const a = parseInt(sfrStops[i].slice(1), 16);
  const b = parseInt(sfrStops[i + 1].slice(1), 16);
  const ch = function(s){
    return Math.round(((a >> s) & 255) * (1 - f) + ((b >> s) & 255) * f);
  };
  return 'rgb(' + ch(16) + ',' + ch(8) + ',' + ch(0) + ')';
}

function drawSeries(panelId, clipId, grayData, c3Data, xFn, yFn){
  const panel = document.getElementById(panelId);
  const grayGroup = document.createElementNS(svgNS, 'g');
  
  
  grayGroup.setAttribute('clip-path', 'url(#' + clipId + ')');
  panel.appendChild(grayGroup);
  grayData.forEach(function(p){
    const el = document.createElementNS(svgNS, 'circle');
    
    
    el.setAttribute('cx', xFn(p[0]));
    el.setAttribute('cy', yFn(p[1]));
    el.setAttribute('r', 4.2);
    el.setAttribute('fill', '#808080');
    el.setAttribute('fill-opacity', '.8');
    grayGroup.appendChild(el);
  });
  const c3Group = document.createElementNS(svgNS, 'g');
  
  
  c3Group.setAttribute('clip-path', 'url(#' + clipId + ')');
  panel.appendChild(c3Group);
  c3Data.forEach(function(p){
    const el = document.createElementNS(svgNS, 'circle');
    
    
    el.setAttribute('cx', xFn(p[0]));
    el.setAttribute('cy', yFn(p[1]));
    el.setAttribute('r', 7.6);
    el.setAttribute('fill', sfrColor(p[2]));
    el.setAttribute('stroke', '#000');
    el.setAttribute('stroke-width', '1.3');
    c3Group.appendChild(el);
  });
}

function addTick(parent, x1, y1, x2, y2){
  const el = document.createElementNS(svgNS, 'line');
  
  
  el.setAttribute('x1', x1);
  el.setAttribute('y1', y1);
  el.setAttribute('x2', x2);
  el.setAttribute('y2', y2);
  el.setAttribute('stroke', '#222');
  el.setAttribute('stroke-width', '1.1');
  parent.appendChild(el);
}
function addLabel(parent, x, y, anchor, size, str){
  const el = document.createElementNS(svgNS, 'text');
  
  
  el.setAttribute('x', x);
  el.setAttribute('y', y);
  el.setAttribute('text-anchor', anchor);
  el.setAttribute('font-size', size);
  el.textContent = str;
  parent.appendChild(el);
}

drawSeries('panel-top', 'clip-top', grayTop.concat(grayTopCloud), c3Top, xMass, yFuv);
drawSeries('panel-left', 'clip-left', grayLeft.concat(grayLeftCloud), c3LeftCore.concat(c3Left), xMass, yKs);
drawSeries('panel-right', 'clip-right', grayRight.concat(grayRightCloud), c3Right, xFuv, yKs);

const tickLayer = document.getElementById('ticks');
fuvTicks.forEach(function(v, i){
  addTick(tickLayer, frameLeft - 5, yFuv(v), frameLeft, yFuv(v));
  addLabel(tickLayer, 88, yFuv(v) + 8.3, 'end', 22.5, fuvTickLabels[i]);
});
ksTicks.forEach(function(v, i){
  addTick(tickLayer, frameLeft - 5, yKs(v), frameLeft, yKs(v));
  addLabel(tickLayer, 88, yKs(v) + 8.3, 'end', 22.5, ksTickLabels[i]);
});
massTicks.forEach(function(v, i){
  addTick(tickLayer, xMass(v), frameBottom, xMass(v), frameBottom + 5);
  addLabel(tickLayer, xMass(v), 1100, 'middle', 22.5, massTickLabels[i]);
});
fuvBottomTicks.forEach(function(v, i){
  addTick(tickLayer, xFuv(v), frameBottom, xFuv(v), frameBottom + 5);
  addLabel(tickLayer, xFuv(v), 1100, 'middle', 22.5, fuvBottomLabels[i]);
});
const colorbarLayer = document.getElementById('colorbar');
sfrTicks.forEach(function(v, i){
  addTick(colorbarLayer, xSfr(v), 192, xSfr(v), 196);
  addLabel(colorbarLayer, xSfr(v), 211.5, 'middle', 13, sfrTickLabels[i]);
});
</script>
</svg>
</body>
</html>
